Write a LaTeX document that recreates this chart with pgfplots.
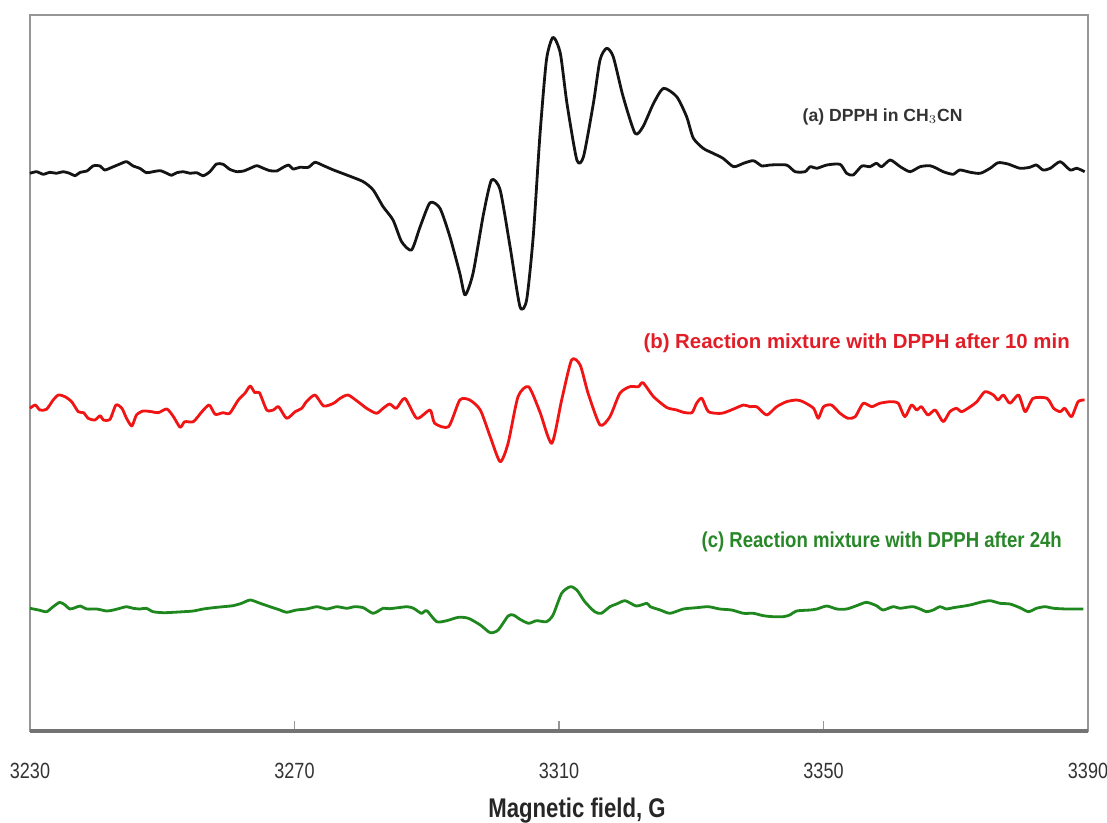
\documentclass[border=0pt]{standalone}
\usepackage{pgfplots}
\pgfplotsset{compat=1.18}
\usepackage{fontspec}
\setmainfont{Liberation Sans}
\newfontfamily\cond[FakeStretch=0.82]{Liberation Sans}
\newfontfamily\condb[FakeStretch=0.86]{Liberation Sans}

\definecolor{trA}{RGB}{20,20,20}
\definecolor{trB}{RGB}{240,20,20}
\definecolor{trC}{RGB}{30,135,30}
\definecolor{txB}{RGB}{225,30,40}
\definecolor{txC}{RGB}{40,135,40}
\definecolor{boxgray}{RGB}{150,150,150}

\begin{document}
\begin{tikzpicture}
\begin{axis}[
    scale only axis,
    width=529pt, height=358pt,
    xmin=3230, xmax=3390,
    ymin=15, ymax=731,
    y dir=reverse,
    xtick={3230,3270,3310,3350,3390},
    xtick pos=bottom,
    ytick=\empty,
    tick align=inside,
    major tick length=5pt,
    x tick style={boxgray, line width=0.6pt},
    axis line style={boxgray, line width=0.7pt},
    /pgf/number format/1000 sep={},
    /pgf/number format/assume math mode=true,
    xticklabel style={font=\cond\fontsize{11}{13}\selectfont, text=black!80, yshift=-12.5pt},
    xlabel={Magnetic field, G},
    xlabel style={font=\cond\bfseries\fontsize{13.5}{15}\selectfont, text=black!85,
        at={(axis description cs:0.5,0)}, anchor=center, xshift=9pt, yshift=-40pt},
    clip=false,
    every axis plot/.append style={smooth, tension=0.4, line width=1.4pt, line join=round},
]

% (a) DPPH in CH3CN
\addplot[trA] coordinates {
(3230.0,173.3)(3231.0,171.7)(3232.0,174.3)(3233.0,172.3)(3234.0,173.3)(3235.0,171.7)
(3236.0,173.3)(3236.8,175.7)(3237.6,172.3)(3238.6,171)(3239.6,165.7)(3240.6,166)
(3241.3,170)(3242.4,167.3)(3243.6,164)(3244.6,161.7)(3245.6,166)(3246.6,168.3)
(3247.6,172.7)(3248.6,171.7)(3249.7,170.7)(3250.7,173.3)(3251.4,175.3)(3252.2,172.7)
(3253.2,171.7)(3254.2,173.3)(3255.2,172.7)(3256.2,175.7)(3257.2,171.7)(3258.2,164)
(3259.2,164.3)(3260.2,169.3)(3261.3,171.7)(3262.3,171)(3263.3,168.3)(3264.3,165.7)
(3265.3,168.3)(3266.3,170.7)(3267.3,171)(3268.3,167.3)(3269.1,165)(3269.8,169)
(3270.8,167.3)(3272.1,167.3)(3273.1,162.3)(3274.4,165.7)(3275.9,170)(3277.9,175)
(3280.4,181.7)(3281.9,190)(3283.4,206.7)(3284.9,220)(3286.2,241.7)(3287.7,250)
(3289.0,226.7)(3290.5,202.7)(3292.0,208.3)(3293.5,236.7)(3295.0,273.3)(3295.8,295)
(3297.0,273.3)(3298.6,213.3)(3299.8,180)(3301.1,190)(3302.6,246.7)(3304.1,306.7)
(3305.1,300)(3306.1,236.7)(3307.1,136.7)(3308.1,60)(3309.1,37.3)(3310.2,53.3)
(3311.2,103.3)(3312.7,160)(3313.7,156.7)(3315.2,103.3)(3316.2,60)(3317.2,48.3)
(3318.2,56.7)(3319.7,96.7)(3321.5,133.3)(3322.7,126.7)(3324.3,103.3)(3325.8,88.3)
(3327.8,96.7)(3329.3,116.7)(3330.3,138)(3331.8,148.3)(3333.3,153.3)(3334.8,158.3)
(3336.4,166.7)(3337.9,163.3)(3339.4,160.7)(3340.7,166)(3341.9,165)(3344.4,165)
(3345.7,171.7)(3347.2,171.7)(3348.0,166.7)(3349.0,168.3)(3350.5,165)(3352.5,164.3)
(3353.5,173.3)(3354.5,175)(3355.8,166)(3357.0,166.7)(3358.0,163.3)(3358.8,166.7)
(3360.1,160)(3361.6,166.7)(3363.1,171.7)(3364.6,166.7)(3366.1,165.7)(3367.1,168.3)
(3368.1,171.7)(3369.6,174.3)(3370.6,170)(3372.2,172.3)(3373.7,173.3)(3375.2,168.3)
(3376.4,162.7)(3377.9,164)(3379.7,168.3)(3381.2,167.3)(3382.2,165)(3383.2,170)
(3384.3,168.3)(3385.8,161.7)(3387.3,170)(3388.3,168.3)(3389.5,171.7)
};

% (b) reaction mixture after 10 min
\addplot[trB] coordinates {
(3230.0,408.3)(3230.8,405)(3231.5,410)(3232.5,409.3)(3233.5,400)(3234.3,395)
(3235.3,396.7)(3236.3,401.7)(3237.3,411.7)(3238.1,412.7)(3238.8,418.3)(3239.8,420)
(3240.6,415.7)(3241.1,420)(3242.1,419.3)(3243.0,405)(3243.9,408.3)(3244.6,418.3)
(3245.4,426)(3246.1,415)(3247.1,411)(3248.4,411.7)(3249.4,412.7)(3250.7,409)
(3251.7,416.7)(3252.7,427.3)(3253.4,421.7)(3254.7,421.7)(3256.0,411.7)(3257.1,405)
(3258.0,414.3)(3259.2,412.7)(3260.2,413.3)(3261.5,400)(3262.5,393.3)(3263.3,386)
(3264.0,392.7)(3264.7,392.7)(3265.8,410)(3266.8,410)(3267.6,406.7)(3268.8,418.3)
(3270.1,411.7)(3271.1,408.3)(3271.8,401.7)(3273.1,395)(3274.4,406)(3275.9,403.3)
(3276.9,398.3)(3278.1,395)(3279.6,401.7)(3280.9,408.3)(3282.4,413.3)(3283.4,408.3)
(3284.4,404)(3285.4,408.3)(3286.7,398.3)(3288.5,418.3)(3290.5,410)(3291.2,423.3)
(3293.3,426.7)(3295.0,400)(3296.5,400)(3298.1,410)(3299.6,436.7)(3301.1,461.7)
(3302.3,443.3)(3303.8,396.7)(3305.4,386.7)(3307.1,411.7)(3308.9,443.3)(3310.4,400)
(3311.9,360)(3313.2,365)(3314.4,393.3)(3316.2,425)(3317.7,416.7)(3319.2,393.3)
(3320.7,386.7)(3322.0,386.7)(3322.7,382.7)(3324.3,396.7)(3326.3,407.5)(3327.8,410)
(3328.8,412.3)(3330.1,412.7)(3330.8,403.3)(3331.6,398.3)(3332.6,411.7)(3334.6,413.3)
(3336.4,409)(3337.9,405)(3338.9,406.7)(3339.9,406.7)(3341.4,415)(3342.9,406.7)
(3344.4,401.7)(3345.9,400)(3346.9,401.7)(3348.5,408.3)(3349.2,418.3)(3350.0,406.7)
(3351.2,405)(3352.5,413.3)(3353.7,418.3)(3354.8,416.7)(3356.0,403.3)(3357.3,406.7)
(3358.5,403.3)(3360.1,401.7)(3361.3,403.3)(3362.3,416.7)(3363.3,405)(3364.1,410)
(3364.8,406.7)(3365.8,415)(3366.9,410)(3368.1,421.7)(3369.1,411.7)(3370.1,408.3)
(3370.9,411.7)(3372.2,406.7)(3373.2,401.7)(3374.4,391.7)(3375.7,395)(3376.4,400)
(3377.2,395)(3378.2,403.3)(3379.5,395)(3380.5,411.7)(3381.7,398.3)(3383.8,398.3)
(3384.8,408.3)(3385.8,411.7)(3386.5,408.3)(3387.5,416.7)(3388.5,401.7)(3389.5,400)
};

% (c) reaction mixture after 24 h
\addplot[trC] coordinates {
(3230.0,608.3)(3231.3,610)(3232.5,611.7)(3233.5,606.7)(3234.5,602.3)(3235.3,605)
(3236.0,609)(3236.8,607.7)(3237.6,606)(3238.6,609)(3240.1,609)(3241.6,611)
(3242.6,610)(3243.6,608.3)(3244.6,606.7)(3245.6,608.3)(3246.6,609)(3247.6,608.3)
(3248.6,611.7)(3250.2,612.7)(3251.7,612.3)(3253.2,611.7)(3254.7,611)(3256.2,609)
(3257.7,607.7)(3259.2,606.7)(3260.7,605.7)(3262.0,603.3)(3263.3,600)(3264.8,603.3)
(3266.3,606.7)(3267.8,610)(3268.8,612.3)(3270.3,610)(3271.8,609)(3273.4,606.7)
(3274.9,609)(3276.4,606.7)(3277.9,608.3)(3279.1,606.7)(3280.4,607.7)(3281.9,613.3)
(3283.4,608.3)(3284.4,608.7)(3287.0,606.7)(3288.0,608.3)(3289.2,613.3)(3290.0,610.7)
(3291.5,621.7)(3293.0,620.7)(3294.8,617.3)(3296.3,618.3)(3298.1,625)(3299.6,632.7)
(3300.8,630)(3302.3,616)(3303.1,615)(3304.1,619.3)(3305.4,623.3)(3306.6,620.7)
(3308.1,621.7)(3309.1,615)(3310.4,593.3)(3311.7,586.7)(3312.7,590)(3313.9,601.7)
(3315.4,611.7)(3316.4,613.3)(3317.7,606.7)(3318.7,604)(3320.0,600.7)(3321.7,606)
(3323.3,603.3)(3323.8,606.7)(3325.3,610)(3326.8,613.3)(3328.8,609)(3330.8,607.7)
(3332.6,606.7)(3334.3,609)(3336.1,610)(3337.9,613.3)(3339.4,613.3)(3340.9,615.7)
(3342.4,616.7)(3343.9,616.7)(3344.9,615)(3345.9,611)(3348.0,610)(3349.0,609)
(3350.5,606)(3352.0,609)(3353.5,609)(3355.0,605.7)(3356.5,602.3)(3358.0,605.7)
(3359.0,610)(3360.5,606.7)(3361.6,608.3)(3362.6,607.3)(3363.6,606.7)(3364.6,609)
(3365.6,611.7)(3366.6,610)(3367.6,606.7)(3368.6,609)(3369.6,607.7)(3370.6,606.7)
(3371.6,605.7)(3372.6,604.3)(3373.7,602.3)(3375.2,600.7)(3376.7,603.3)(3378.2,604)
(3379.7,607.7)(3381.0,611.7)(3382.2,608.3)(3383.5,606.7)(3384.8,608.3)(3386.8,609)
(3389.3,609)
};

\coordinate (bl) at (axis description cs:0,0);
\coordinate (br) at (axis description cs:1,0);
\coordinate (tr) at (axis description cs:1,1);

\node[anchor=east, inner sep=0pt, text=black!80, font=\fontsize{8.8}{10}\selectfont\bfseries]
    at (axis cs:3371.1,117) {(a) DPPH in CH$_3$CN};
\node[anchor=east, inner sep=0pt, text=txB, font=\bfseries\fontsize{10.2}{12}\selectfont]
    at (axis cs:3387.3,343) {(b) Reaction mixture with DPPH after 10 min};
\node[anchor=east, inner sep=0pt, text=txC, font=\condb\bfseries\fontsize{10.8}{12}\selectfont]
    at (axis cs:3386.1,542) {(c) Reaction mixture with DPPH after 24h};
\end{axis}
% darker, heavier bottom axis line as in the original
\draw[black!55, line width=1.6pt] (bl) -- (br);
\pgfresetboundingbox
\path ([shift={(-15pt,-46pt)}]bl) rectangle ([shift={(9.5pt,7.5pt)}]tr);
\end{tikzpicture}
\end{document}
